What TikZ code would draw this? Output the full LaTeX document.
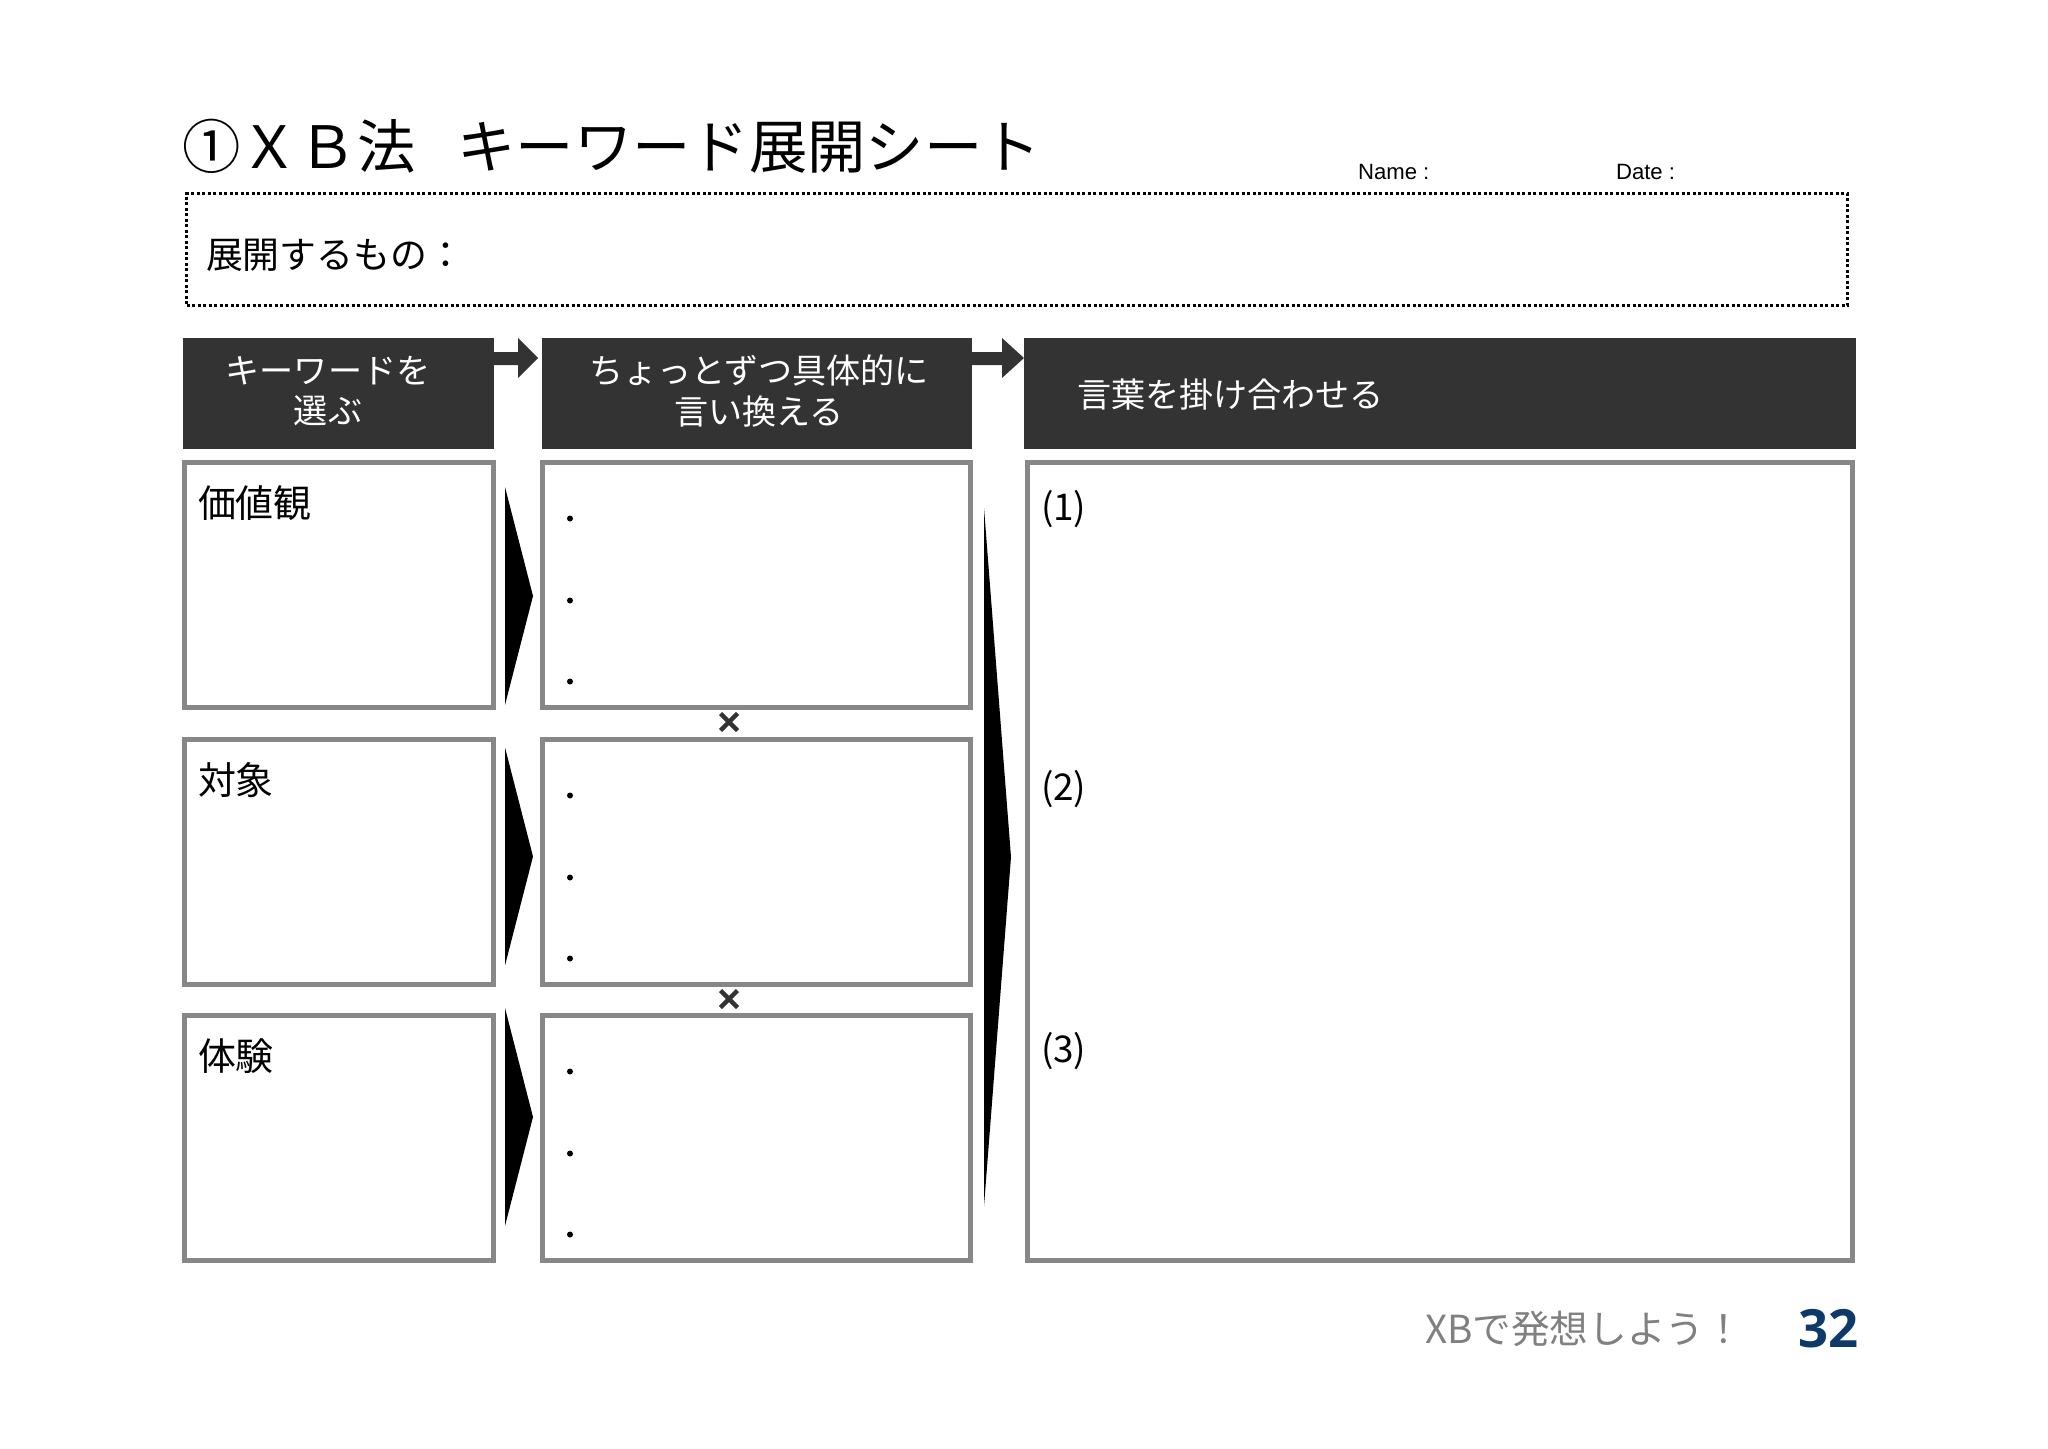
\documentclass[tikz,border=0pt]{standalone}
\usepackage{fontspec}
\setmainfont{Noto Sans CJK JP}
\newfontfamily\namefont{Liberation Sans}
\newfontfamily\pagefont{Open Sans}
\usetikzlibrary{calc}
\definecolor{hdark}{HTML}{333333}
\definecolor{cellgray}{HTML}{878787}
\definecolor{footgray}{HTML}{808080}
\definecolor{pagenavy}{HTML}{0E3A6A}

\begin{document}
\begin{tikzpicture}[x=0.1mm,y=-0.1mm,every node/.style={outer sep=0pt,inner sep=0pt}]


\tikzstyle{header}=[fill=hdark,draw=none,minimum height=11.1mm]
\tikzstyle{hdtext}=[text=white,font=\fontsize{9.7}{11.4}\selectfont,align=center]
\tikzstyle{cell}=[draw=cellgray,line width=0.5mm,minimum height=24.5mm]
\tikzstyle{celltext}=[anchor=west,font=\fontsize{10.8}{13}\selectfont]
\tikzstyle{small}=[anchor=west,font=\namefont\fontsize{6.3}{7}\selectfont]

\useasboundingbox (0,0) rectangle (2048,1448);

\node (title) [anchor=west,font=\fontsize{16.6}{19}\selectfont] at (182,146) {①ＸＢ法\hspace{0.72em}キーワード展開シート};
\node (name) [small] at (1358,172) {Name :};
\node (date) [small] at (1616,172) {Date :};

\node (target) [draw,line width=0.3mm,dash pattern=on 0.3mm off 0.25mm,minimum width=166.1mm,minimum height=11.2mm] at (1017,249.5) {};
\node (targettext) [anchor=west,font=\fontsize{10.5}{12}\selectfont] at (206,255) {展開するもの：};

% headers
\node (h1) [header,minimum width=31.1mm] at (338.5,393.5) {};
\node (h2) [header,minimum width=43mm] at (757,393.5) {};
\node (h3) [header,minimum width=83.2mm] at (1440,393.5) {};
\node (t1) [hdtext] at (328,391) {キーワードを\\選ぶ};
\node (t2) [hdtext] at (759,391) {ちょっとずつ具体的に\\言い換える};
\node (t3) [hdtext,anchor=west] at (1077,395) {言葉を掛け合わせる};

\foreach \a/\b/\s/\g in {h1/h2/24/4,h2/h3/30/0}
	\fill [hdark] ($(\a.north east)+(0,14)$) -- ($(\a.north east)+(\s,14)$) -- ($(\a.north east)+(\s,0)$) -- ($(\b.north west)+(-\g,20)$) -- ($(\a.north east)+(\s,40)$) -- ($(\a.north east)+(\s,27)$) -- ($(\a.north east)+(0,27)$) -- cycle;

% rows
\foreach \i/\y/\t in {1/585/価値観,2/862/対象,3/1138/体験} {
	\node (k\i) [cell,minimum width=30.9mm] at (339,\y) {};
	\node (p\i) [cell,minimum width=42.8mm] at (756.5,\y) {};
	\node (v\i) [celltext] at ($(k\i.north west)+(13.5,41)$) {\t};
	\foreach \d in {56,138,219}
		\fill ($(p\i.north west)+(27.5,\d)$) circle (0.3mm);
	\fill (505,{487+260.5*(\i-1)}) -- (533,{596+260.5*(\i-1)}) -- (505,{705+260.5*(\i-1)}) -- cycle;
}
\node (mix) [cell,minimum width=82.5mm,minimum height=79.8mm] at (1440,861.5) {};
\foreach \n/\y in {1/509,2/789,3/1051}
	\node (m\n) [celltext,font=\fontsize{10.5}{12}\selectfont] at (1041,\y) {(\n)};
\fill (984,508) -- (1011,857) -- (984,1206) -- cycle;

\foreach \y in {722,999}
	\draw [hdark,line width=0.45mm] (720.5,\y-8.5) -- (737.5,\y+8.5) (720.5,\y+8.5) -- (737.5,\y-8.5);

\node (motto) [anchor=west,text=footgray,font=\fontsize{11}{13}\selectfont] at (1425,1329) {XBで発想しよう！};
\node (page) [anchor=east,text=pagenavy,font=\pagefont\bfseries\fontsize{15}{18}\selectfont] at (1859,1329) {32};

\end{tikzpicture}
\end{document}
